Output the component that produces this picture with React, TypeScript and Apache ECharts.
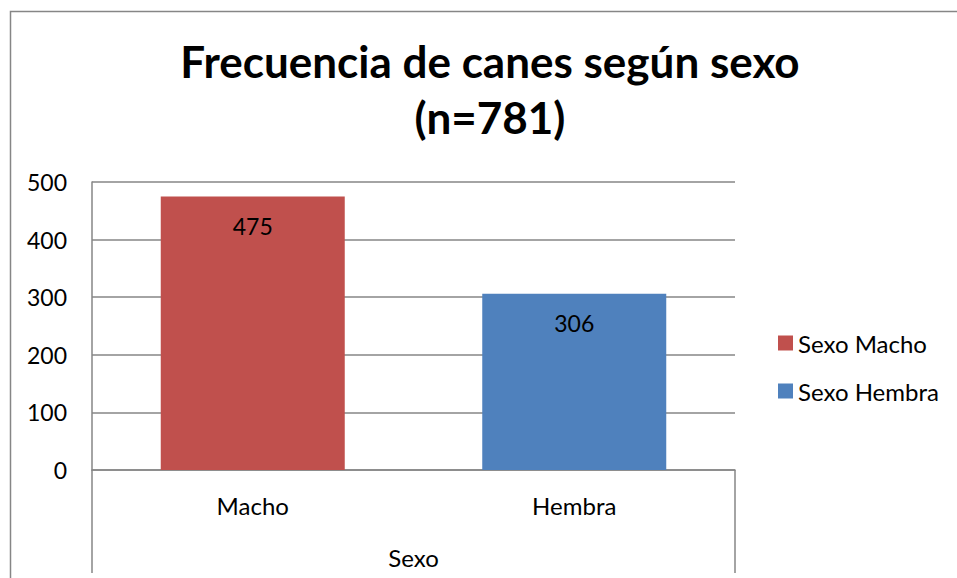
import React, { useEffect, useRef } from "react";
import * as echarts from "echarts";

const categories = ["Macho", "Hembra"];
const seriesNames = ["Sexo Macho", "Sexo Hembra"];
const machoValues = [475, null];
const hembraValues = [null, 306];
const yTicks = [0, 100, 200, 300, 400, 500];
const titleLines = ["Frecuencia de canes según sexo", "(n=781)"];
const axisTitle = "Sexo";

const FONT = "Lato, 'Open Sans', sans-serif";
const GRID_LEFT = 92;
const GRID_TOP = 182;
const GRID_RIGHT_X = 735;
const GRID_BOTTOM_Y = 470;
const W = 957;
const H = 578;

export default function App() {
  const ref = useRef<HTMLDivElement>(null);
  useEffect(() => {
    if (!ref.current) return;
    const chart = echarts.init(ref.current, null, { renderer: "svg" });
    const gray = "#868686";
    chart.setOption({
      animation: false,
      backgroundColor: "#ffffff",
      textStyle: { fontFamily: FONT },
      grid: {
        left: GRID_LEFT,
        top: GRID_TOP,
        right: W - GRID_RIGHT_X,
        bottom: H - GRID_BOTTOM_Y,
        containLabel: false,
      },
      legend: {
        orient: "vertical",
        left: 778,
        top: 331,
        padding: 0,
        icon: "rect",
        itemWidth: 15,
        itemHeight: 15,
        itemGap: 24,
        textStyle: { fontFamily: FONT, fontSize: 24, color: "#000" },
        data: seriesNames,
      },
      xAxis: {
        type: "category",
        data: categories,
        axisLine: { show: true, lineStyle: { color: gray, width: 1.5 } },
        axisTick: { show: false },
        axisLabel: { color: "#000", fontSize: 24, fontFamily: FONT, margin: 23 },
        name: axisTitle,
        nameLocation: "middle",
        nameGap: 75,
        nameTextStyle: { color: "#000", fontSize: 24, fontFamily: FONT },
      },
      yAxis: {
        type: "value",
        min: yTicks[0],
        max: yTicks[yTicks.length - 1],
        interval: yTicks[1] - yTicks[0],
        axisLine: { show: true, lineStyle: { color: gray, width: 1.5 } },
        axisTick: { show: false },
        axisLabel: { color: "#000", fontSize: 23, fontFamily: FONT, margin: 25 },
        splitLine: { show: true, lineStyle: { color: gray, width: 1.5 } },
      },
      series: [
        {
          name: seriesNames[0],
          type: "bar",
          stack: "total",
          data: machoValues.map((v) => (v === null ? "-" : v)),
          barWidth: 184,
          itemStyle: { color: "#C0504D" },
          label: {
            show: true,
            position: "insideTop",
            distance: 18,
            color: "#000",
            fontSize: 23,
            fontFamily: FONT,
          },
        },
        {
          name: seriesNames[1],
          type: "bar",
          stack: "total",
          data: hembraValues.map((v) => (v === null ? "-" : v)),
          barWidth: 184,
          itemStyle: { color: "#4F81BD" },
          label: {
            show: true,
            position: "insideTop",
            distance: 18,
            color: "#000",
            fontSize: 23,
            fontFamily: FONT,
          },
        },
      ],
      graphic: [
        {
          type: "rect",
          silent: true,
          shape: { x: 10.5, y: 11.5, width: 1200, height: 1200 },
          style: { fill: "none", stroke: gray, lineWidth: 1.5 },
          z: 0,
        },
        {
          type: "line",
          silent: true,
          shape: { x1: GRID_LEFT, y1: GRID_BOTTOM_Y, x2: GRID_LEFT, y2: 573 },
          style: { stroke: gray, lineWidth: 1.5 },
        },
        {
          type: "line",
          silent: true,
          shape: { x1: GRID_RIGHT_X, y1: GRID_BOTTOM_Y, x2: GRID_RIGHT_X, y2: 573 },
          style: { stroke: gray, lineWidth: 1.5 },
        },
        {
          type: "text",
          x: 490,
          y: 33,
          style: {
            text: titleLines.join("\n"),
            fontFamily: FONT,
            fontWeight: "bold",
            fontSize: 44,
            lineHeight: 56,
            fill: "#000",
            textAlign: "center",
            textVerticalAlign: "top",
          },
        },
      ],
    });
    return () => chart.dispose();
  }, []);
  return (
    <div
      ref={ref}
      style={{ position: "fixed", left: 0, top: 0, width: W, height: H }}
    />
  );
}
